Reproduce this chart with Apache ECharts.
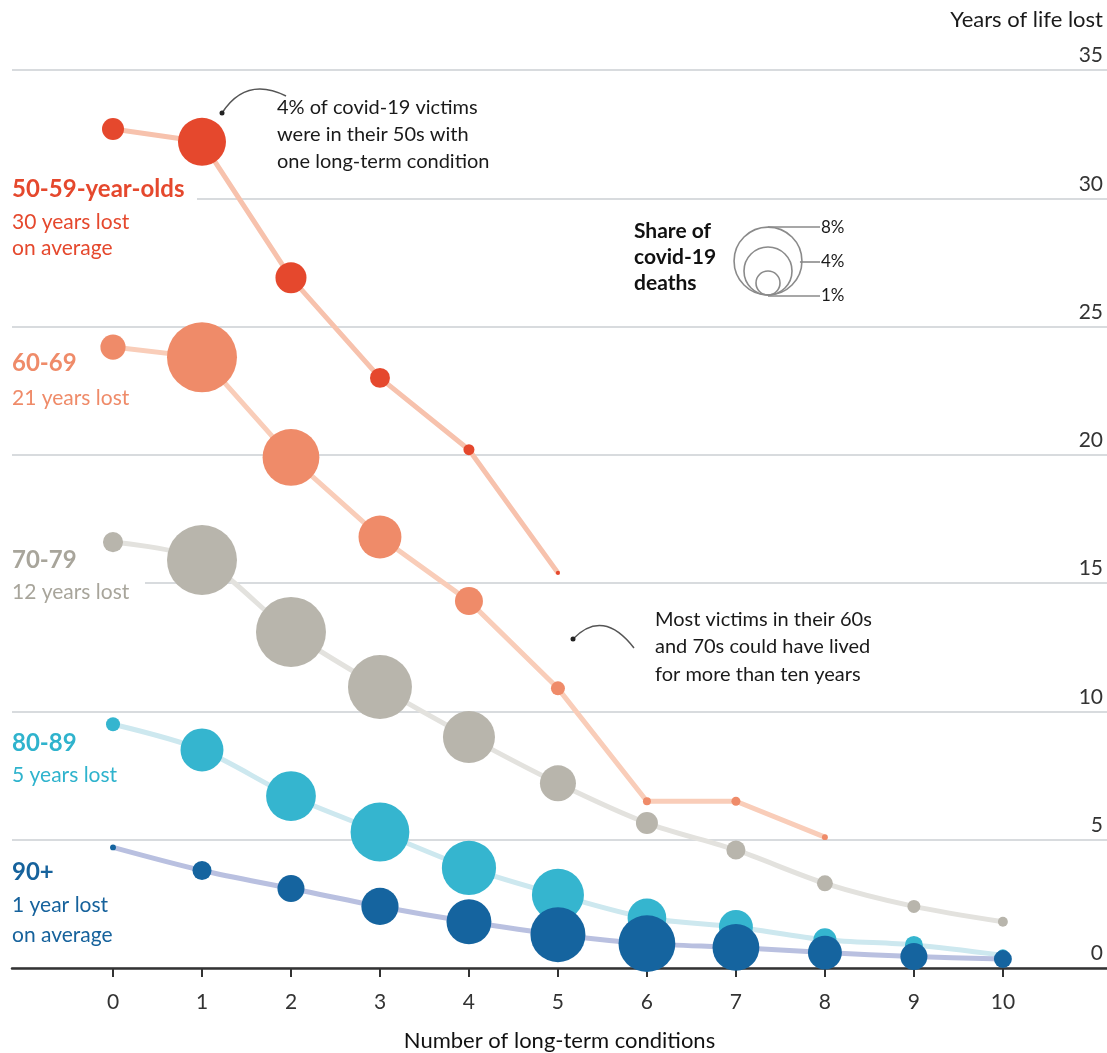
<!DOCTYPE html>
<html>
<head>
<meta charset="utf-8">
<script src="https://cdn.jsdelivr.net/npm/echarts@6/dist/echarts.min.js"></script>
<style>
html, body { margin: 0; padding: 0; background: #fff; }
#chart { width: 1107px; height: 1053px; }
</style>
</head>
<body>
<div id="chart"></div>
<script>
const FONT = 'Lato'

const conditions = [0, 1, 2, 3, 4, 5, 6, 7, 8, 9, 10]
const yTicks = [0, 5, 10, 15, 20, 25, 30, 35]

// years of life lost, by number of long-term conditions
const years5059 = [32.7, 32.2, 26.9, 23.0, 20.2, 15.4]
const years6069 = [24.2, 23.8, 19.9, 16.8, 14.3, 10.9, 6.5, 6.5, 5.1]
const years7079 = [16.6, 15.9, 13.1, 10.95, 9.0, 7.2, 5.65, 4.6, 3.3, 2.4, 1.8]
const years8089 = [9.5, 8.5, 6.7, 5.3, 3.9, 2.85, 1.95, 1.6, 1.1, 0.9, 0.5]
const years90 = [4.7, 3.8, 3.1, 2.4, 1.8, 1.3, 0.95, 0.8, 0.6, 0.45, 0.35]

// share of covid-19 deaths, %
const share5059 = [0.84, 4.0, 1.67, 0.69, 0.21, 0.03]
const share6069 = [1.1, 8.5, 5.6, 3.2, 1.36, 0.34, 0.11, 0.14, 0.06]
const share7079 = [0.7, 8.5, 8.5, 7.1, 4.7, 2.25, 0.84, 0.63, 0.44, 0.29, 0.17]
const share8089 = [0.34, 3.2, 4.3, 6.0, 5.1, 4.7, 2.6, 2.0, 0.92, 0.56, 0.25]
const share90 = [0.06, 0.63, 1.27, 2.4, 3.5, 5.25, 5.6, 3.8, 2.0, 1.27, 0.56]

const legendShares = [8, 4, 1]

const groups = [
  { name: '50-59', years: years5059, share: share5059, color: '#e5482d', line: '#f7c2ad', smooth: false },
  { name: '60-69', years: years6069, share: share6069, color: '#ef8b69', line: '#f9cdb9', smooth: false },
  { name: '70-79', years: years7079, share: share7079, color: '#b8b5ac', line: '#e3e2de', smooth: 0.3 },
  { name: '80-89', years: years8089, share: share8089, color: '#35b5cf', line: '#cde8ef', smooth: 0.3 },
  { name: '90+', years: years90, share: share90, color: '#15649f', line: '#b9c0e0', smooth: 0.3 },
]

// bubble area proportional to share: 4% -> 48px across
function bubbleSize(share) {
  return 24 * Math.sqrt(share)
}

const series = []
groups.forEach(g => {
  series.push({
    name: g.name + ' line',
    type: 'line',
    data: g.years.map((v, i) => [conditions[i], v]),
    showSymbol: false,
    smooth: g.smooth,
    lineStyle: { color: g.line, width: 5 },
    z: 1,
    silent: true,
  })
})
groups.forEach(g => {
  series.push({
    name: g.name,
    type: 'scatter',
    data: g.years.map((v, i) => [conditions[i], v, g.share[i]]),
    symbolSize: d => bubbleSize(d[2]),
    itemStyle: { color: g.color, opacity: 1 },
    z: 3,
  })
})

function text(x, y, str, color, size, weight, align) {
  return {
    type: 'text', x: x, y: y, z: 100,
    style: {
      text: str, fill: color, fontSize: size, fontWeight: weight || 'normal',
      fontFamily: FONT, align: align || 'left', verticalAlign: 'middle'
    }
  }
}

const graphics = [
  // white gaps in gridlines behind labels
  { type: 'rect', z: 50, shape: { x: 10, y: 193, width: 187, height: 9 }, style: { fill: '#fff' } },
  { type: 'rect', z: 50, shape: { x: 10, y: 578, width: 135, height: 9 }, style: { fill: '#fff' } },

  text(1103, 20, 'Years of life lost', '#1a1a1a', 22, 'normal', 'right'),

  text(12, 189, '50-59-year-olds', '#e5482d', 24, 'bold'),
  text(12, 222, '30 years lost', '#e5482d', 21),
  text(12, 248, 'on average', '#e5482d', 21),
  text(12, 363, '60-69', '#ef8b69', 24, 'bold'),
  text(12, 398, '21 years lost', '#ef8b69', 21),
  text(12, 560, '70-79', '#a8a59b', 24, 'bold'),
  text(12, 592, '12 years lost', '#a8a59b', 21),
  text(12, 743, '80-89', '#2fb3cd', 24, 'bold'),
  text(12, 775, '5 years lost', '#2fb3cd', 21),
  text(12, 872, '90+', '#16629c', 24, 'bold'),
  text(12, 905, '1 year lost', '#16629c', 21),
  text(12, 935, 'on average', '#16629c', 21),

  // annotation 1
  { type: 'bezierCurve', z: 100, shape: { x1: 222, y1: 113, cpx1: 246, cpy1: 76, x2: 286, y2: 96 }, style: { stroke: '#555', lineWidth: 1.5, fill: null } },
  { type: 'circle', z: 100, shape: { cx: 222, cy: 113, r: 2.5 }, style: { fill: '#222' } },
  text(277, 108, '4% of covid-19 victims', '#1a1a1a', 20),
  text(277, 135, 'were in their 50s with', '#1a1a1a', 20),
  text(277, 162, 'one long-term condition', '#1a1a1a', 20),

  // annotation 2
  { type: 'bezierCurve', z: 100, shape: { x1: 573, y1: 639, cpx1: 603, cpy1: 608, x2: 634, y2: 648 }, style: { stroke: '#555', lineWidth: 1.5, fill: null } },
  { type: 'circle', z: 100, shape: { cx: 573, cy: 639, r: 2.5 }, style: { fill: '#222' } },
  text(655, 620, 'Most victims in their 60s', '#1a1a1a', 20),
  text(655, 647, 'and 70s could have lived', '#1a1a1a', 20),
  text(655, 675, 'for more than ten years', '#1a1a1a', 20),

  // size legend
  text(634, 231, 'Share of', '#111', 21, 'bold'),
  text(634, 257, 'covid-19', '#111', 21, 'bold'),
  text(634, 283, 'deaths', '#111', 21, 'bold'),
]

const legendCx = 768
const legendBottom = 295
const legendLabelY = [228, 262, 296]
legendShares.forEach((s, i) => {
  const r = bubbleSize(s) / 2
  graphics.push({ type: 'circle', z: 100, shape: { cx: legendCx, cy: legendBottom - r, r: r }, style: { fill: null, stroke: '#8a8a8a', lineWidth: 1.6 } })
  const startX = i === 1 ? legendCx + bubbleSize(legendShares[0]) / 2 - 2 : legendCx
  graphics.push({ type: 'line', z: 100, shape: { x1: startX, y1: legendLabelY[i] - (i === 0 ? 1 : 0), x2: 820, y2: legendLabelY[i] - (i === 0 ? 1 : 0) }, style: { stroke: '#8a8a8a', lineWidth: 1.6 } })
  graphics.push(text(821, legendLabelY[i], s + '%', '#1a1a1a', 17))
})

const chart = echarts.init(document.getElementById('chart'))
chart.setOption({
  animation: false,
  backgroundColor: '#fff',
  grid: { left: 12, right: 0, top: 70, bottom: 85, outerBoundsMode: 'none', containLabel: false },
  xAxis: {
    type: 'value',
    min: -1.135,
    max: 11.17,
    axisLine: { lineStyle: { color: '#333', width: 2.5 } },
    axisTick: { customValues: conditions, length: 9, lineStyle: { color: '#333', width: 2 } },
    axisLabel: { customValues: conditions, margin: 24, fontSize: 21, color: '#333', fontFamily: FONT },
    splitLine: { show: false },
    name: 'Number of long-term conditions',
    nameLocation: 'middle',
    nameGap: 62,
    nameTextStyle: { fontSize: 22, color: '#111', fontFamily: FONT },
  },
  yAxis: {
    type: 'value',
    position: 'right',
    min: 0,
    max: 35,
    interval: 5,
    axisLine: { show: false },
    axisTick: { show: false },
    axisLabel: {
      inside: true, margin: 4, fontSize: 21, color: '#333', fontFamily: FONT,
      verticalAlign: 'bottom', padding: [0, 0, 4, 0],
      customValues: yTicks
    },
    splitLine: { lineStyle: { color: '#d8dbde', width: 2 } },
  },
  series: series,
  graphic: graphics,
})
</script>
</body>
</html>
